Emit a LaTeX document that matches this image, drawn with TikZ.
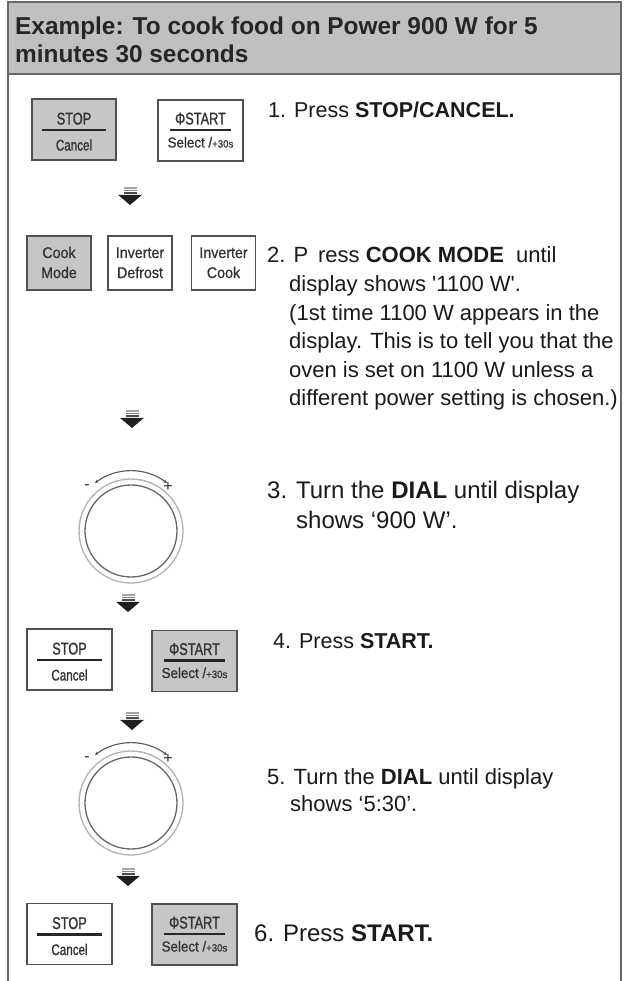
\documentclass[tikz,border=0pt]{standalone}
\usepackage{fontspec}
\setmainfont{Liberation Sans}[Ligatures=TeXOff]
\newfontfamily\btnfont{Liberation Sans}[FakeStretch=0.75,FakeBold=1.2,Ligatures=TeXOff]
\newfontfamily\smfont{Liberation Sans}[FakeStretch=0.92,FakeBold=0.8,Ligatures=TeXOff]
\newfontfamily\hdrfont{Liberation Sans}[Ligatures=TeXOff]
\usetikzlibrary{arrows.meta,calc}
\definecolor{btngray}{HTML}{C6C6C6}
\definecolor{hdrgray}{HTML}{C0C0C0}
\definecolor{edge}{HTML}{505050}
\definecolor{frame}{HTML}{686868}
\definecolor{txt}{HTML}{1A1A1A}
\definecolor{btntxt}{HTML}{333333}
\tikzset{
  btn/.style={draw=edge, line width=1.4pt, inner sep=0pt, outer sep=0pt, minimum height=61pt},
  body/.style={text=txt, inner sep=0pt, anchor=base west},
  bigtxt/.style={font=\fontsize{17}{17}\btnfont},
  smalltxt/.style={font=\fontsize{14.5}{14.5}\smfont},
  lbl/.style={text=btntxt, inner sep=0pt, anchor=base},
  barline/.style={draw=black!85, line width=2.2pt},
}
% STOP/Cancel button: name, cx, cy, width, fill
\newcommand{\stopbtn}[5]{%
  \node[btn, fill=#5, minimum width=#4pt] (#1) at (#2,#3) {};
  \node[lbl, bigtxt] (#1-top) at ($(#1.center)+(0,-5)$) {STOP};
  \draw[barline] ($(#1.center)+(-0.385*#4,0.5)$) -- ($(#1.center)+(0.385*#4,0.5)$);
  \node[lbl, font=\fontsize{15.5}{15.5}\btnfont] (#1-bot) at ($(#1.center)+(0,21)$) {Cancel};
}
% START/Select button: name, cx, cy, width, fill
\newcommand{\startbtn}[5]{%
  \node[btn, fill=#5, minimum width=#4pt] (#1) at (#2,#3) {};
  \node[lbl, bigtxt] (#1-top) at ($(#1.center)+(0,-6)$) {Φ{}START};
  \draw[barline] ($(#1.center)+(-0.36*#4,-0.5)$) -- ($(#1.center)+(0.36*#4,-0.5)$);
  \node[lbl, smalltxt] (#1-bot) at ($(#1.center)+(0,17)$) {Select /\fontsize{10.5}{10.5}\selectfont+30s};
}
% two-line mode button: name, cx, cy, fill, line1, line2
\newcommand{\modebtn}[6]{%
  \node[btn, fill=#4, minimum width=64pt, minimum height=54pt] (#1) at (#2,#3) {};
  \node[lbl, font=\fontsize{15.5}{15.5}\smfont] (#1-a) at ($(#1.center)+(0,-5)$) {#5};
  \node[lbl, font=\fontsize{15.5}{15.5}\smfont] (#1-b) at ($(#1.center)+(0,15)$) {#6};
}
% flow arrow: name, cx, ytop
\newcommand{\flowarr}[3]{%
  \coordinate (#1) at (#2,#3);
  \fill[black!35] ($(#1)+(-6.5,0)$) rectangle ($(#1)+(6.5,1.7)$);
  \fill[black!50] ($(#1)+(-6.5,2.7)$) rectangle ($(#1)+(6.5,4.4)$);
  \fill[black!70] ($(#1)+(-6.5,5.4)$) rectangle ($(#1)+(6.5,7.1)$);
  \fill[black!88] ($(#1)+(-12,7.8)$) -- ($(#1)+(12,7.8)$) -- ($(#1)+(0,18)$) -- cycle;
}
% dial: name, cx, cy
\newcommand{\dialknob}[3]{%
  \coordinate (#1) at (#2,#3);
  \draw[black!30, line width=1.3pt] (#1) circle[radius=52];
  \draw[black!60, line width=1.3pt] (#1) circle[radius=46];
  \draw[black!65, line width=1.1pt, {Stealth[length=4pt,width=3.5pt]}-{Stealth[length=4pt,width=3.5pt]}]
    ($(#1)+(-127:60)$) arc[start angle=-127, end angle=-53, radius=60];
  \node[inner sep=0pt, font=\fontsize{16}{16}\selectfont, text=btntxt] (#1-minus) at ($(#1)+(-44,-44)$) {-};
  \node[inner sep=0pt, font=\fontsize{16}{16}\selectfont, text=btntxt] (#1-plus) at ($(#1)+(37,-44)$) {+};
}
\begin{document}
\begin{tikzpicture}[x=1pt,y=-1pt]
\useasboundingbox (0,0) rectangle (623,981);
\fill[white] (0,0) rectangle (623,981);
% header
\fill[hdrgray] (8,2) rectangle (621,74);
\draw[frame, line width=1.5pt] (8,981) -- (8,2) -- (621,2) -- (621,981);
\draw[frame, line width=1.5pt] (8,74) -- (621,74);
\node[body, font=\fontsize{24.4}{28}\hdrfont\bfseries, text=black!85] (h1) at (15,35) {Example: To cook food on Power 900 W for 5};
\node[body, font=\fontsize{24.4}{28}\hdrfont\bfseries, text=black!85] (h2) at (15,63) {minutes 30 seconds};
% step 1
\stopbtn{b1s}{74}{129.5}{84}{btngray}
\startbtn{b1g}{200.5}{130.5}{85}{white}
\node[body, font=\fontsize{21.5}{25}\selectfont] (s1) at (268,118) {1. Press \textbf{STOP/CANCEL.}};
\flowarr{a1}{130}{187}
% step 2
\modebtn{m1}{59}{263}{btngray}{Cook}{Mode}
\modebtn{m2}{140}{263}{white}{Inverter}{Defrost}
\modebtn{m3}{223.5}{263}{white}{Inverter}{Cook}
\node[body, font=\fontsize{22}{25}\selectfont] (s2a) at (267,262) {2. P\, ress \textbf{COOK MODE}\ \ until};
\node[body, font=\fontsize{22}{25}\selectfont] (s2b) at (289,291) {display shows '1100 W'.};
\node[body, font=\fontsize{22}{25}\selectfont] (s2c) at (289,320) {(1st time 1100 W appears in the};
\node[body, font=\fontsize{22}{25}\selectfont] (s2d) at (289,348) {display. This is to tell you that the};
\node[body, font=\fontsize{22}{25}\selectfont] (s2e) at (289,377) {oven is set on 1100 W unless a};
\node[body, font=\fontsize{22}{25}\selectfont] (s2f) at (289,405) {different power setting is chosen.)};
\flowarr{a2}{132}{410}
% step 3
\dialknob{d1}{131}{531}
\node[body, font=\fontsize{24}{28}\selectfont] (s3a) at (267,498) {3. Turn the \textbf{DIAL} until display};
\node[body, font=\fontsize{24}{28}\selectfont] (s3b) at (296,528) {shows ‘900 W’.};
\flowarr{a3}{128}{594}
% step 4
\stopbtn{b4s}{69.5}{659.5}{85}{white}
\startbtn{b4g}{194.5}{661}{85}{btngray}
\node[body, font=\fontsize{21.5}{25}\selectfont] (s4) at (273,648) {4. Press \textbf{START.}};
\flowarr{a4}{132}{712}
% step 5
\dialknob{d2}{131}{803}
\node[body, font=\fontsize{22}{25}\selectfont] (s5a) at (267,784) {5. Turn the \textbf{DIAL} until display};
\node[body, font=\fontsize{22}{25}\selectfont] (s5b) at (290,811) {shows ‘5:30’.};
\flowarr{a5}{128}{868}
% step 6
\stopbtn{b6s}{69.5}{934}{85}{white}
\startbtn{b6g}{194.5}{934.5}{85}{btngray}
\node[body, font=\fontsize{24}{28}\selectfont] (s6) at (254,941) {6. Press \textbf{START.}};
\end{tikzpicture}
\end{document}
